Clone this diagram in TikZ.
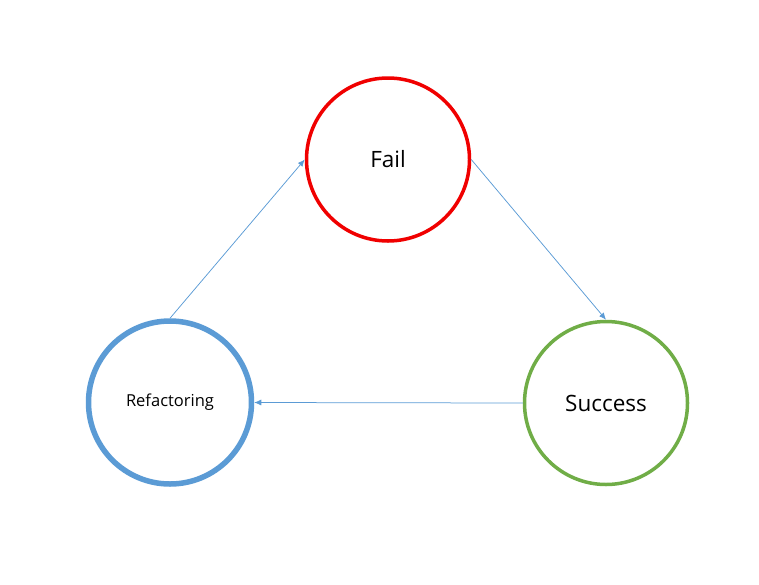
\documentclass[tikz,border=0pt]{standalone}
\usepackage{fontspec}
\setmainfont{Open Sans}
\usetikzlibrary{arrows.meta}
\definecolor{failred}{RGB}{240,0,0}
\definecolor{okgreen}{RGB}{112,173,71}
\definecolor{refblue}{RGB}{91,155,213}

\begin{document}
\begin{tikzpicture}[x=1pt, y=-1pt,
    state/.style={circle, minimum size=163pt, inner sep=0pt},
    flow/.style={-{Latex[length=7pt,width=6pt]}, refblue, line width=0.75pt}]
            \useasboundingbox (0,0) rectangle (759,584);
            \node (fail) [state, draw=failred, line width=3.5pt, font=\fontsize{22.5}{26}\selectfont] at (388,159.5) {Fail};
            \node (success) [state, draw=okgreen, line width=3.5pt, font=\fontsize{22.5}{26}\selectfont] at (606,403) {Success};
            \node (refactor) [state, draw=refblue, line width=5.5pt, font=\fontsize{16.5}{20}\selectfont] at (170,402.5) {Refactoring};
            \draw [flow] (refactor.north) -- (fail.west);
            \draw [flow] (fail.east) -- (success.north);
            \draw [flow] (success.west) -- (refactor.east);
        \end{tikzpicture}
\end{document}
